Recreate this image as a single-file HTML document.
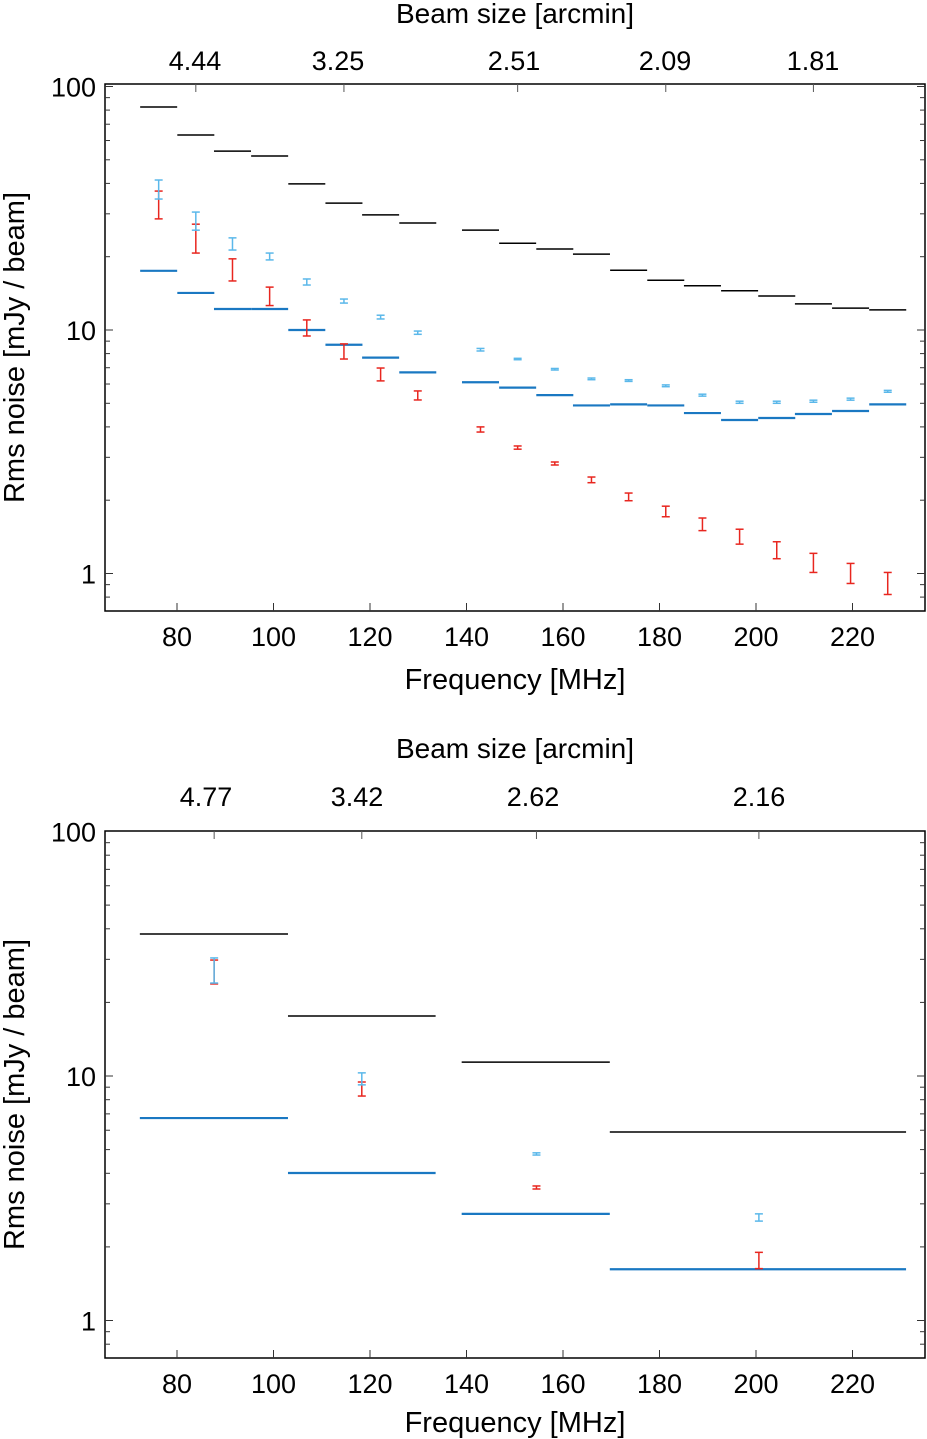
<!DOCTYPE html>
<html><head><meta charset="utf-8">
<style>
body{margin:0;background:#fff;}
svg{display:block;font-family:"Liberation Sans",Arial,sans-serif;}
text{fill:#000;}
</style></head>
<body>
<svg id="chart" width="927" height="1439" viewBox="0 0 927 1439" xmlns="http://www.w3.org/2000/svg"></svg>
<script>
// ---------- Top panel data ----------
const topBandCenters = [76.2,83.9,91.5,99.2,106.9,114.6,122.2,129.9,142.9,150.6,158.3,165.9,173.6,181.3,188.9,196.6,204.3,211.9,219.6,227.3];
const topObserved = [82.4,63.2,54.3,51.8,39.8,33.2,29.7,27.5,25.7,22.7,21.5,20.5,17.6,16.0,15.2,14.5,13.8,12.8,12.3,12.1];
const topTheory = [17.5,14.2,12.2,12.2,10.0,8.7,7.7,6.7,6.1,5.8,5.4,4.9,4.95,4.9,4.56,4.27,4.35,4.52,4.65,4.95];
const topBlueHi = [41.3,30.5,23.9,20.7,16.2,13.4,11.5,9.9,8.4,7.65,6.95,6.35,6.25,5.95,5.45,5.1,5.1,5.15,5.25,5.65];
const topBlueLo = [34.5,25.7,21.3,19.4,15.3,12.9,11.1,9.6,8.2,7.55,6.85,6.25,6.15,5.85,5.35,5.0,5.0,5.05,5.15,5.55];
const topRedHi = [37.2,27.2,19.6,15.0,11.0,8.77,6.98,5.62,4.0,3.34,2.87,2.49,2.14,1.89,1.69,1.52,1.35,1.21,1.10,1.01];
const topRedLo = [28.6,20.7,15.9,12.6,9.45,7.6,6.18,5.16,3.81,3.24,2.79,2.36,1.99,1.71,1.50,1.32,1.15,1.01,0.91,0.82];
const topBandWidth = 7.67;
const topBeamLabels = ["4.44","3.25","2.51","2.09","1.81"];
const topBeamFreqs = [83.9,114.6,150.6,181.3,211.9];

// ---------- Bottom panel data ----------
const botBandLo = [72.3,103.0,139.0,169.7];
const botBandHi = [103.0,133.6,169.7,231.1];
const botCenters = [87.7,118.3,154.5,200.6];
const botObserved = [38.1,17.6,11.4,5.9];
const botTheory = [6.73,4.01,2.73,1.62];
const botBlueHi = [30.4,10.3,4.85,2.73];
const botBlueLo = [24.0,9.2,4.75,2.55];
const botRedHi = [29.8,9.45,3.55,1.9];
const botRedLo = [23.8,8.28,3.45,1.63];
const botBeamLabels = ["4.77","3.42","2.62","2.16"];
const botBeamFreqs = [87.7,118.3,154.5,200.6];

const xTicks = [80,100,120,140,160,180,200,220];
const yTicks = [1,10,100];

const NS="http://www.w3.org/2000/svg";
const svg=document.getElementById('chart');
function el(tag,attrs,parent){const e=document.createElementNS(NS,tag);for(const k in attrs)e.setAttribute(k,attrs[k]);(parent||svg).appendChild(e);return e;}
function xScale(f){return 177+(f-80)*4.825;}

function panel(y10,dec,top,bot,name){
  const g=el('g',{});
  
  
  const yScale=v=>y10-Math.log10(v/10)*dec;
  return {g,yScale,top,bot};
}

function drawAxes(p,beamFreqs,beamLabels,beamLabelX,beamY,titleY,xTitleY){
  const {g,yScale,top,bot}=p;
  const L=105,R=925;
  const frame=el('rect',{x:L,y:top,width:R-L,height:bot-top,fill:'none',stroke:'#000','stroke-width':1.5},g);
  
  
  xTicks.forEach(t=>{
    const x=xScale(t);
    el('line',{x1:x,x2:x,y1:bot,y2:bot-8,stroke:'#333','stroke-width':1},g);
    const tx=el('text',{x:x,y:bot+35,'font-size':27,'text-anchor':'middle'},g);
    tx.textContent=t;
    
    
  });
  for(let d=-1;d<=2;d++){
    for(let m=1;m<10;m++){
      const v=m*Math.pow(10,d);
      const y=yScale(v);
      if(y<top+2||y>bot-2) continue;
      const len=m===1?8:5;
      el('line',{x1:L,x2:L+len,y1:y,y2:y,stroke:'#333','stroke-width':1},g);
      el('line',{x1:R,x2:R-len,y1:y,y2:y,stroke:'#333','stroke-width':1},g);
    }
  }
  yTicks.forEach(t=>{
    const tx=el('text',{x:96,y:yScale(t)+10,'font-size':27,'text-anchor':'end'},g);
    tx.textContent=t;
    
    
  });
  beamFreqs.forEach((f,i)=>{
    const x=xScale(f);
    el('line',{x1:x,x2:x,y1:top,y2:top+8,stroke:'#555','stroke-width':1},g);
    const tx=el('text',{x:beamLabelX[i],y:beamY,'font-size':27,'text-anchor':'middle'},g);
    tx.textContent=beamLabels[i];
    
    
  });
  const bt=el('text',{x:515,y:titleY,'font-size':28,'text-anchor':'middle'},g);
  bt.textContent='Beam size [arcmin]';
  
  
  const xt=el('text',{x:515,y:xTitleY,'font-size':29,'text-anchor':'middle'},g);
  xt.textContent='Frequency [MHz]';
  
  
  const cy=(top+bot)/2;
  const yt=el('text',{x:24,y:cy,'font-size':29,'text-anchor':'middle',transform:'rotate(-90 24 '+cy+')'},g);
  yt.textContent='Rms noise [mJy / beam]';
  
  
}

function seg(g,x1,x2,y,color,w,name){
  const l=el('line',{x1:x1,x2:x2,y1:y,y2:y,stroke:color,'stroke-width':w},g);
  
  
}
function errbar(g,x,yHi,yLo,color,name){
  const gg=el('g',{stroke:color,'stroke-width':1.5},g);
  
  
  el('line',{x1:x,x2:x,y1:yHi,y2:yLo},gg);
  el('line',{x1:x-4,x2:x+4,y1:yHi,y2:yHi},gg);
  el('line',{x1:x-4,x2:x+4,y1:yLo,y2:yLo},gg);
}

// Top panel
const P1=panel(330,243.5,84,611,'top-panel');
drawAxes(P1,topBeamFreqs,topBeamLabels,[195,338,514,665,813],70,23,689);
topBandCenters.forEach((c,i)=>{
  const x1=xScale(c-topBandWidth/2),x2=xScale(c+topBandWidth/2);
  seg(P1.g,x1,x2,P1.yScale(topObserved[i]),'#000',1.5,'observed-noise-step');
  seg(P1.g,x1,x2,P1.yScale(topTheory[i]),'#1a78c2',2.2,'theoretical-noise-step');
});
topBandCenters.forEach((c,i)=>{
  errbar(P1.g,xScale(c),P1.yScale(topRedHi[i]),P1.yScale(topRedLo[i]),'#e8261f','red-errorbar');
});
topBandCenters.forEach((c,i)=>{
  errbar(P1.g,xScale(c),P1.yScale(topBlueHi[i]),P1.yScale(topBlueLo[i]),'#5bb8ea','lightblue-errorbar');
});

// Bottom panel
const P2=panel(1076,244.5,831,1358,'bottom-panel');
drawAxes(P2,botBeamFreqs,botBeamLabels,[206,357,533,759],806,758,1432);
botCenters.forEach((c,i)=>{
  const x1=xScale(botBandLo[i]),x2=xScale(botBandHi[i]);
  seg(P2.g,x1,x2,P2.yScale(botObserved[i]),'#000',1.5,'observed-noise-step');
  seg(P2.g,x1,x2,P2.yScale(botTheory[i]),'#1a78c2',2.2,'theoretical-noise-step');
});
botCenters.forEach((c,i)=>{
  errbar(P2.g,xScale(c),P2.yScale(botRedHi[i]),P2.yScale(botRedLo[i]),'#e8261f','red-errorbar');
});
botCenters.forEach((c,i)=>{
  errbar(P2.g,xScale(c),P2.yScale(botBlueHi[i]),P2.yScale(botBlueLo[i]),'#5bb8ea','lightblue-errorbar');
});
</script>
</body></html>
